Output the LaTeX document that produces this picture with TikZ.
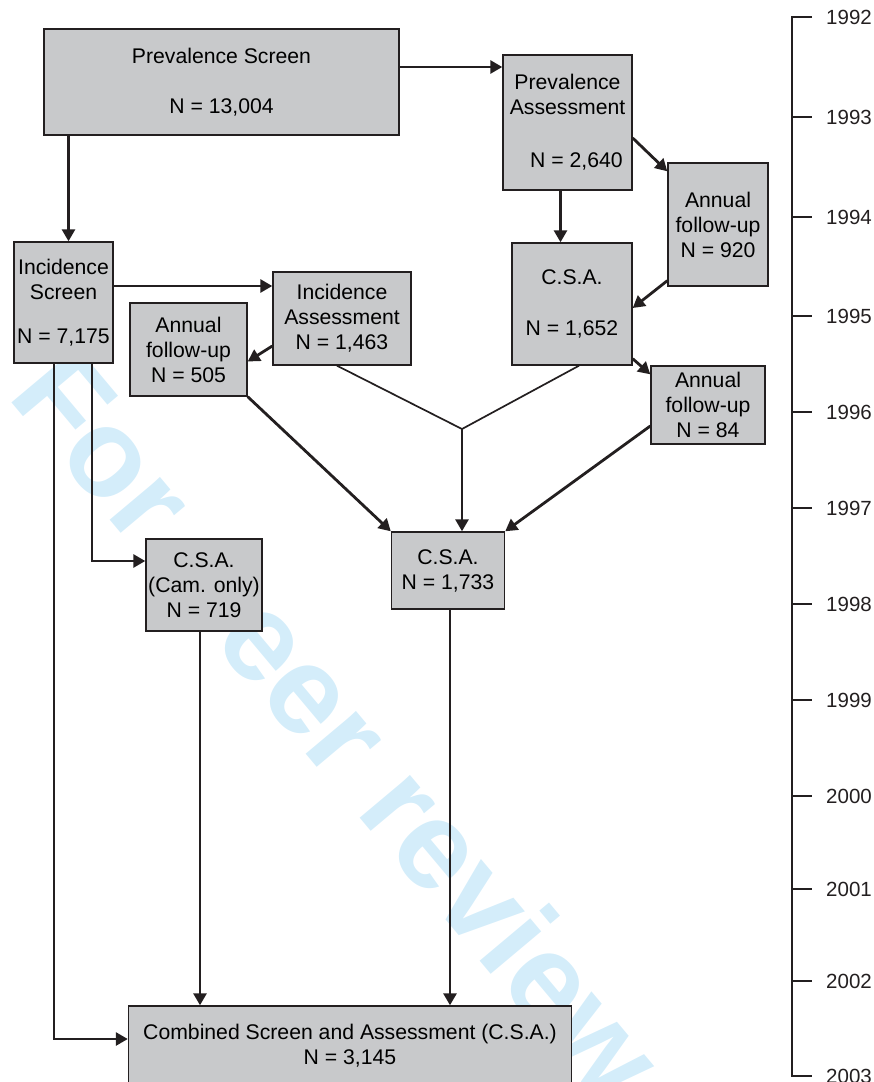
\documentclass[tikz,border=0pt]{standalone}
\usepackage{fontspec}
\setmainfont{Liberation Sans}
\usetikzlibrary{arrows.meta}
\definecolor{boxgray}{RGB}{200,201,203}
\definecolor{linecol}{RGB}{35,31,32}
\definecolor{wmark}{RGB}{212,237,250}
\newcommand{\boxfont}{\fontsize{21.2}{25}\selectfont}
\newcommand{\yearfont}{\fontsize{20.5}{24}\selectfont}
\newcommand{\wmfont}{\fontsize{125}{125}\selectfont\bfseries}
\begin{document}
\begin{tikzpicture}[x=1pt,y=-1pt,
  box/.style={draw=linecol, line width=1.4pt, fill=boxgray, inner sep=0pt, align=center, font=\boxfont},
  arr/.style={draw=linecol, line width=2.8pt, -{Triangle[length=12pt,width=13pt]}},
  thinln/.style={draw=linecol, line width=1.7pt},
  tickln/.style={draw=linecol, line width=1.2pt},
  year/.style={anchor=west, inner sep=0pt, font=\yearfont, text=linecol},
  wm/.style={rotate=-50, anchor=base, text=wmark, font=\wmfont, inner sep=0pt}]
\useasboundingbox (0,0) rectangle (874,1082);
\clip (0,0) rectangle (874,1082);

% watermark (the P of "Peer" is hidden behind a box)
\begin{scope}[shift={(6,396)}, rotate=-50]
\foreach \ch/\u [count=\k] in {F/305.5,o/916.5,r/1416.5,e/2834,e/3390,r/3862.5,r/4529.5,e/5002,v/5558,i/5975,e/6392,w/7059}
  \node[wm] (wm\k) at (\u*0.125,0) {\ch};
\end{scope}

% boxes
\node[box, minimum width=355pt, minimum height=106pt] (ps) at (221.5,82) {Prevalence Screen\\[25pt]N = 13,004};
\node[box, minimum width=129pt, minimum height=135pt] (pa) at (567.5,122.5) {Prevalence\\Assessment\\[28pt]\hspace*{18pt}N = 2,640};
\node[box, minimum width=100pt, minimum height=123pt] (af1) at (718,224.5) {Annual\\follow-up\\N = 920};
\node[box, minimum width=120pt, minimum height=122pt] (csa1) at (572,304) {C.S.A.\\[26pt]N = 1,652};
\node[box, minimum width=114pt, minimum height=78pt] (af2) at (708,405) {Annual\\follow-up\\N = 84};
\node[box, minimum width=99pt, minimum height=121pt] (is) at (63.5,302.5) {Incidence\\Screen\\[19pt]N = 7,175};
\node[box, minimum width=138pt, minimum height=93pt] (ia) at (342,318.5) {Incidence\\Assessment\\N = 1,463};
\node[box, minimum width=117pt, minimum height=93pt] (af3) at (188.5,349.5) {Annual\\follow-up\\N = 505};
\node[box, minimum width=113pt, minimum height=77pt] (csa2) at (448,570.5) {C.S.A.\\N = 1,733};
\node[box, minimum width=116pt, minimum height=92pt] (csa3) at (204,585) {C.S.A.\\(Cam. only)\\N = 719};
\node[box, minimum width=443pt, minimum height=79pt] (final) at (350,1045.5) {Combined Screen and Assessment (C.S.A.)\\N = 3,145};

% connectors
\draw[arr] ([yshift=15pt]ps.east) -- ([yshift=15pt]ps.east -| pa.west);
\coordinate (isn) at ([xshift=5pt]is.north);
\draw[arr] (isn |- ps.south) -- (isn);
\coordinate (pas) at ([xshift=-7pt]pa.south);
\draw[arr] (pas) -- (pas |- csa1.north);
\draw[arr] ([yshift=-15.5pt]pa.east) -- ([yshift=-9pt]af1.north west);
\draw[arr] ([yshift=6pt]af1.south west) -- ([yshift=-4pt]csa1.east);
\draw[arr] ([yshift=7pt]csa1.south east) -- ([yshift=-9pt]af2.north west);
\coordinate (isr) at ([yshift=16.5pt]is.east);
\draw[arr] (isr) -- (isr -| ia.west);
\draw[arr] ([yshift=-27.5pt]ia.west) -- ([yshift=-12pt]af3.east);
\coordinate (j) at (462,429);
\draw[thinln] ([xshift=-5pt]ia.south) -- (j);
\draw[thinln] ([xshift=7pt]csa1.south) -- (j);
\draw[arr] (j) -- (j |- csa2.north);
\draw[arr] (af3.south east) -- (csa2.north west);
\draw[arr] ([yshift=-21pt]af2.west) -- (csa2.north east);

\coordinate (isa) at ([xshift=-9.5pt]is.south);
\coordinate (isb) at ([xshift=28.5pt]is.south);
\coordinate (c3) at ([yshift=24pt]csa3.west);
\coordinate (cf) at ([yshift=6.5pt]final.west);
\draw[thinln] (isb) -- (isb |- c3);
\draw[arr] ([xshift=-0.8pt]isb |- c3) -- (c3);
\draw[thinln] (isa) -- (isa |- cf);
\draw[arr] ([xshift=-0.8pt]isa |- cf) -- (cf);
\coordinate (c3s) at ([xshift=-4pt]csa3.south);
\draw[arr] (c3s) -- (c3s |- final.north);
\coordinate (c2s) at ([xshift=2pt]csa2.south);
\draw[arr] (c2s) -- (c2s |- final.north);

% timeline
\draw[tickln] (812,17) -- (792,17) -- (792,1076) -- (812,1076);
\foreach \yr/\yy in {1992/17,1993/117,1994/217,1995/316,1996/412,1997/508,1998/604,1999/700,2000/796,2001/889,2002/981,2003/1076}{
  \draw[tickln] (792,\yy) -- (812,\yy);
  \node[year] (y\yr) at (826,\yy) {\yr};
}
\end{tikzpicture}
\end{document}
